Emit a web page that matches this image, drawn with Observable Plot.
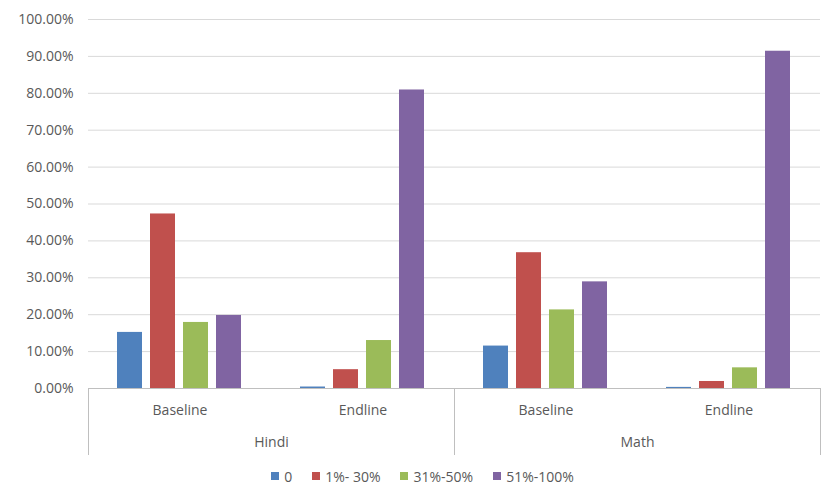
<!DOCTYPE html>
<html>
<head>
<meta charset="utf-8">
<script src="https://cdn.jsdelivr.net/npm/d3@7"></script>
<script src="https://cdn.jsdelivr.net/npm/@observablehq/plot@0.6"></script>
<style>
  html, body { margin: 0; padding: 0; background: #fff; }
  #chart { width: 821px; font-family: "Open Sans", sans-serif; color: #595959; }
  #legend { display: flex; justify-content: center; align-items: center; gap: 20px;
            padding-left: 24px; height: 24px; font-size: 14px; color: #595959; }
  #legend .item { display: flex; align-items: center; gap: 5px; }
  #legend .sw { width: 8px; height: 8px; display: inline-block; }
</style>
</head>
<body>
<div id="chart"></div>
<script>
// Share of students in each score band, by subject and round
const subjects = ["Hindi", "Math"];
const periods = ["Baseline", "Endline"];
const bands = ["0", "1%- 30%", "31%-50%", "51%-100%"];
const colors = ["#4F81BD", "#C0504D", "#9BBB59", "#8064A2"];

const hindiBaseline = [0.152, 0.473, 0.179, 0.198];
const hindiEndline  = [0.004, 0.051, 0.130, 0.809];
const mathBaseline  = [0.115, 0.368, 0.213, 0.289];
const mathEndline   = [0.003, 0.019, 0.056, 0.914];

const yTicks = d3.range(0, 1.0001, 0.1);

const series = {
  "Hindi|Baseline": hindiBaseline,
  "Hindi|Endline": hindiEndline,
  "Math|Baseline": mathBaseline,
  "Math|Endline": mathEndline
};

const rows = [];
for (const s of subjects) for (const p of periods) {
  const key = `${s}|${p}`;
  series[key].forEach((v, i) => rows.push({subject: s, period: p, key, band: bands[i], value: v}));
}
const groups = subjects.flatMap(s => periods.map(p => ({subject: s, period: p, key: `${s}|${p}`})));

const axisColor = "#bfbfbf";
const gridColor = "#d9d9d9";

const plot = Plot.plot({
  width: 821,
  height: 464,
  marginLeft: 86,
  marginRight: 0,
  marginTop: 19,
  marginBottom: 76,
  style: {fontFamily: "Open Sans, sans-serif", fontSize: "14px", color: "#595959", background: "#fff"},
  fx: {domain: groups.map(d => d.key), axis: null, padding: 0},
  x: {domain: bands, axis: null, paddingInner: 0.23, paddingOuter: 0.84},
  y: {domain: [0, 1], ticks: yTicks, tickFormat: d3.format(".2%"), tickSize: 0, tickPadding: 15, label: null},
  color: {domain: bands, range: colors},
  marks: [
    Plot.gridY(yTicks.filter(t => t > 0), {stroke: gridColor, strokeOpacity: 1}),
    Plot.barY(rows, {fx: "key", x: "band", y: "value", fill: "band"}),
    Plot.ruleY([0], {stroke: axisColor}),
    Plot.text(groups, {fx: "key", text: "period", frameAnchor: "bottom", dy: 22, lineAnchor: "middle", fill: "#595959"}),
    Plot.text(groups.filter(d => d.period === periods[0]), {fx: "key", text: "subject", frameAnchor: "bottom-right", textAnchor: "middle", dy: 54, lineAnchor: "middle", fill: "#595959"})
  ]
});

// Divider lines between the subject groups under the category axis
const fx = plot.scale("fx");
const fxBand = (fx.range[1] - fx.range[0]) / groups.length;
const y0 = plot.scale("y").apply(0);
const edges = [];
subjects.forEach(s => edges.push(fx.apply(`${s}|${periods[0]}`)));
edges.push(fx.apply(`${subjects[subjects.length - 1]}|${periods[periods.length - 1]}`) + fxBand);
d3.select(plot).append("g")
  .attr("stroke", axisColor)
  .selectAll("line")
  .data(edges)
  .join("line")
  .attr("x1", d => Math.min(d + 0.5, 820.5)).attr("x2", d => Math.min(d + 0.5, 820.5))
  .attr("y1", y0).attr("y2", y0 + 67);

document.getElementById("chart").append(plot);

const legend = d3.select("#chart").append("div").attr("id", "legend");
const items = legend.selectAll(".item").data(bands).join("div").attr("class", "item");
items.append("span").attr("class", "sw").style("background", (d, i) => colors[i]);
items.append("span").text(d => d);
</script>
</body>
</html>
